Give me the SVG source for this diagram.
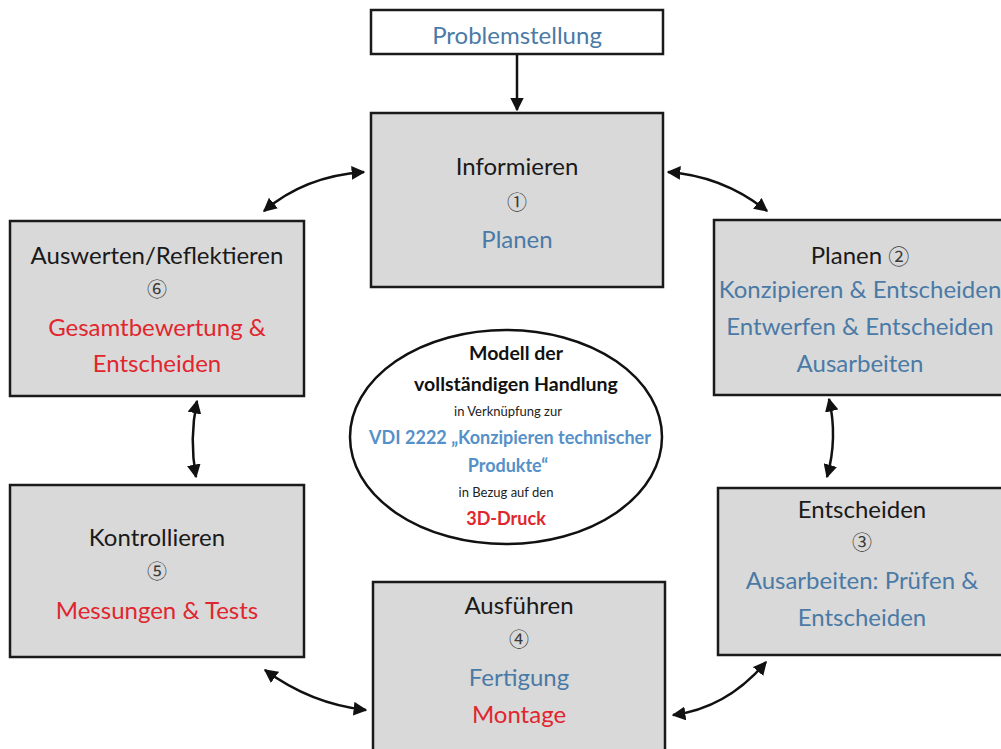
<svg xmlns="http://www.w3.org/2000/svg" width="1001" height="749" viewBox="0 0 1001 749">
<defs>
<style>
.box{fill:#d9d9d9;stroke:#1a1a1a;stroke-width:2.5}
.wbox{fill:#ffffff;stroke:#1a1a1a;stroke-width:2.5}
text{font-family:Lato,"Noto Sans","Noto Sans CJK JP",sans-serif;text-anchor:middle}
.t{font-size:24px;fill:#1a1a1a}
.b{font-size:24px;fill:#4a7aa6}
.r{font-size:24px;fill:#e0262e}
.n{font-size:20px;fill:#3a3a3a;font-family:"Noto Sans CJK JP","Noto Sans CJK SC",sans-serif}
.eb{font-size:19.5px;font-weight:bold;fill:#111111}
.es{font-size:13px;fill:#222222}
.ev{font-size:18px;font-weight:bold;fill:#5591c8}
.er{font-size:18px;font-weight:bold;fill:#e0262e}
.c{fill:none;stroke:#111111;stroke-width:2.5}
</style>
<marker id="ah" viewBox="0 0 10 10" refX="9" refY="5" markerWidth="5.5" markerHeight="5.5" orient="auto-start-reverse" markerUnits="strokeWidth">
<path d="M0,0 L10,5 L0,10 z" fill="#111111"/>
</marker>
</defs>
<rect width="1001" height="749" fill="#ffffff"/>

<g id="connectors">
<path class="c" d="M517,55 L517,110" marker-end="url(#ah)"/>
<path class="c" d="M264,211 Q305,176 364,172" marker-start="url(#ah)" marker-end="url(#ah)"/>
<path class="c" d="M668,172 Q723,176 767,211" marker-start="url(#ah)" marker-end="url(#ah)"/>
<path class="c" d="M197,401 Q189,439 196,477" marker-start="url(#ah)" marker-end="url(#ah)"/>
<path class="c" d="M829,399 Q838,438 827,477" marker-start="url(#ah)" marker-end="url(#ah)"/>
<path class="c" d="M265,670 Q311,704 366,710" marker-start="url(#ah)" marker-end="url(#ah)"/>
<path class="c" d="M673,715 Q727,708 766,662" marker-start="url(#ah)" marker-end="url(#ah)"/>
</g>

<g id="problemstellung">
<rect class="wbox" x="371" y="10" width="292" height="44"/>
<text class="b" x="517" y="44">Problemstellung</text>
</g>

<g id="informieren">
<rect class="box" x="371" y="113" width="292" height="174"/>
<text class="t" x="517" y="175">Informieren</text>
<text class="n" x="517" y="210">①</text>
<text class="b" x="517" y="248">Planen</text>
</g>

<g id="auswerten">
<rect class="box" x="10" y="221" width="294" height="175"/>
<text class="t" x="157" y="264">Auswerten/Reflektieren</text>
<text class="n" x="157" y="297">⑥</text>
<text class="r" x="157" y="336">Gesamtbewertung &amp;</text>
<text class="r" x="157" y="372">Entscheiden</text>
</g>

<g id="planen">
<rect class="box" x="714" y="220" width="294" height="175"/>
<text class="t" x="860" y="264">Planen <tspan class="n" style="font-size:21px">②</tspan></text>
<text class="b" x="860" y="298">Konzipieren &amp; Entscheiden</text>
<text class="b" x="860" y="335">Entwerfen &amp; Entscheiden</text>
<text class="b" x="860" y="372">Ausarbeiten</text>
</g>

<g id="modell">
<ellipse cx="506" cy="437" rx="156" ry="107" fill="#ffffff" stroke="#111111" stroke-width="2.5"/>
<text class="eb" x="516" y="360">Modell der</text>
<text class="eb" x="516" y="391">vollständigen Handlung</text>
<text class="es" x="508" y="416">in Verknüpfung zur</text>
<text class="ev" x="510" y="444">VDI 2222 „Konzipieren technischer</text>
<text class="ev" x="508" y="472">Produkte“</text>
<text class="es" x="506" y="497">in Bezug auf den</text>
<text class="er" x="506" y="525">3D-Druck</text>
</g>

<g id="kontrollieren">
<rect class="box" x="10" y="485" width="294" height="172"/>
<text class="t" x="157" y="546">Kontrollieren</text>
<text class="n" x="157" y="579">⑤</text>
<text class="r" x="157" y="619">Messungen &amp; Tests</text>
</g>

<g id="entscheiden">
<rect class="box" x="718" y="488" width="294" height="167"/>
<text class="t" x="862" y="518">Entscheiden</text>
<text class="n" x="862" y="550">③</text>
<text class="b" x="862" y="589">Ausarbeiten: Prüfen &amp;</text>
<text class="b" x="862" y="626">Entscheiden</text>
</g>

<g id="ausfuehren">
<rect class="box" x="373" y="582" width="292" height="180"/>
<text class="t" x="519" y="614">Ausführen</text>
<text class="n" x="519" y="647">④</text>
<text class="b" x="519" y="686">Fertigung</text>
<text class="r" x="519" y="723">Montage</text>
</g>
</svg>
